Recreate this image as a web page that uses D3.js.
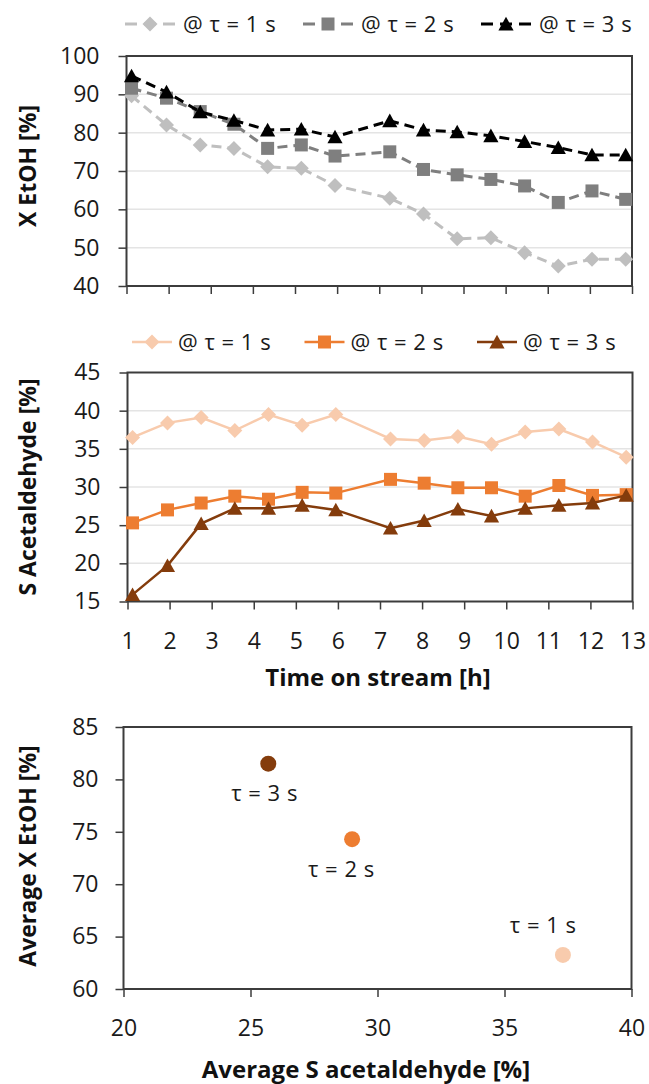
<!DOCTYPE html>
<html>
<head>
<meta charset="utf-8">
<script src="https://cdn.jsdelivr.net/npm/d3@7"></script>
<style>
  html, body { margin: 0; padding: 0; background: #fff; }
  svg { display: block; font-family: "Open Sans", sans-serif; }
</style>
</head>
<body>
<svg id="fig" width="649" height="1084"></svg>
<script>
// ---- data ----------------------------------------------------------------
const hours = [1.12, 1.95, 2.75, 3.55, 4.35, 5.15, 5.95, 7.25, 8.05, 8.85, 9.65, 10.45, 11.25, 12.05, 12.85];

const conversionTau1 = [89.6, 82.0, 76.8, 75.9, 71.1, 70.7, 66.2, 62.9, 58.8, 52.3, 52.6, 48.7, 45.2, 47.0, 47.0];
const conversionTau2 = [91.6, 89.0, 85.5, 82.2, 75.9, 76.8, 73.9, 75.0, 70.4, 69.0, 67.8, 66.1, 61.8, 64.8, 62.6];
const conversionTau3 = [94.8, 90.6, 85.4, 83.2, 80.7, 80.9, 78.9, 83.1, 80.7, 80.2, 79.2, 77.7, 76.1, 74.2, 74.2];

const selectivityTau1 = [36.5, 38.4, 39.1, 37.4, 39.5, 38.1, 39.5, 36.3, 36.1, 36.6, 35.6, 37.2, 37.6, 35.9, 33.9];
const selectivityTau2 = [25.3, 27.0, 27.9, 28.8, 28.4, 29.3, 29.2, 31.0, 30.5, 29.9, 29.9, 28.8, 30.2, 28.9, 29.0];
const selectivityTau3 = [15.9, 19.7, 25.2, 27.2, 27.2, 27.6, 27.0, 24.6, 25.6, 27.1, 26.2, 27.2, 27.6, 27.9, 28.9];

const seriesNames = ["@ τ = 1 s", "@ τ = 2 s", "@ τ = 3 s"];
const pointNames = ["τ = 1 s", "τ = 2 s", "τ = 3 s"];
const avgSelectivity = [37.3, 29.0, 25.7];
const avgConversion = [63.25, 74.3, 81.5];

const hourTicks = [1, 2, 3, 4, 5, 6, 7, 8, 9, 10, 11, 12, 13];
const conversionTicks = [40, 50, 60, 70, 80, 90, 100];
const selectivityTicks = [15, 20, 25, 30, 35, 40, 45];
const avgConversionTicks = [60, 65, 70, 75, 80, 85];
const avgSelectivityTicks = [20, 25, 30, 35, 40];

// ---- styling ---------------------------------------------------------------
const greyColors = ["#bfbfbf", "#7f7f7f", "#000000"];
const orangeColors = ["#f8cbad", "#ed7d31", "#843c0c"];
const shapes = ["diamond", "square", "triangle"];
const FONT = 23;
const LEGEND_FONT = 22;
const TITLE_FONT = 23;
const BORDER = "#3c3c3c";
const GRID = "#e4e4e4";

const svg = d3.select("#fig");

function markerPath(shape) {
  if (shape === "diamond") return "M0,-7.5L7.5,0L0,7.5L-7.5,0Z";
  if (shape === "square") return "M-6.5,-6.5H6.5V6.5H-6.5Z";
  return "M0,-7.2L7.6,6.4L-7.6,6.4Z";
}

function frame(g, x, y, xTicks, yTicks, opts) {
  const [x0, x1] = x.range();
  const [y0, y1] = y.range(); // y0 bottom, y1 top
  // horizontal gridlines
  if (opts.grid) {
    g.append("g").selectAll("line")
      .data(yTicks.slice(1, -1))
      .join("line")
      .attr("x1", x0).attr("x2", x1)
      .attr("y1", d => y(d)).attr("y2", d => y(d))
      .attr("stroke", GRID).attr("stroke-width", 1.5);
  }
  // y axis
  const ya = g.append("g").attr("transform", `translate(${x0},0)`)
    .call(d3.axisLeft(y).tickValues(yTicks).tickSize(8).tickPadding(opts.yPad));
  // x axis
  const xa = g.append("g").attr("transform", `translate(0,${y0})`)
    .call(d3.axisBottom(x).tickValues(xTicks).tickSize(8).tickPadding(23)
      .tickFormat(opts.xLabels ? d3.format("d") : () => ""));
  [ya, xa].forEach(a => {
    a.select(".domain").remove();
    a.selectAll(".tick line").attr("stroke", BORDER).attr("stroke-width", 1.5);
    a.selectAll(".tick text").attr("fill", "#1a1a1a")
      .style("font-size", FONT + "px").style("font-family", "Open Sans, sans-serif");
  });
  // plot border
  g.append("rect")
    .attr("x", x0).attr("y", y1)
    .attr("width", x1 - x0).attr("height", y0 - y1)
    .attr("fill", "none").attr("stroke", BORDER).attr("stroke-width", 2);
}

function yTitle(text, cx, cy) {
  svg.append("text")
    .attr("transform", `translate(${cx},${cy}) rotate(-90)`)
    .attr("text-anchor", "middle").attr("dy", "0.35em")
    .style("font-size", TITLE_FONT + "px").style("font-weight", 700)
    .attr("fill", "#111").text(text);
}

function xTitle(text, cx, cy) {
  svg.append("text")
    .attr("x", cx).attr("y", cy)
    .attr("text-anchor", "middle").attr("dy", "0.35em")
    .style("font-size", (TITLE_FONT + 1) + "px").style("font-weight", 700)
    .attr("fill", "#111").text(text);
}

function series(g, x, y, values, color, shape, dashed) {
  const line = d3.line().x((d, i) => x(hours[i])).y(d => y(d));
  g.append("path").datum(values)
    .attr("d", line)
    .attr("fill", "none").attr("stroke", color)
    .attr("stroke-width", dashed ? 3 : 2.5)
    .attr("stroke-dasharray", dashed ? "10,6" : null);
  g.append("g").selectAll("path")
    .data(values)
    .join("path")
    .attr("transform", (d, i) => `translate(${x(hours[i])},${y(d)})`)
    .attr("d", markerPath(shape))
    .attr("fill", color);
}

function legend(y0, x0, step, lineLen, colors, dashed) {
  const g = svg.append("g");
  seriesNames.forEach((name, i) => {
    const sx = x0 + i * step;
    g.append("line")
      .attr("x1", sx).attr("x2", sx + lineLen)
      .attr("y1", y0).attr("y2", y0)
      .attr("stroke", colors[i]).attr("stroke-width", dashed ? 3 : 2.5)
      .attr("stroke-dasharray", dashed ? "12,7" : null);
    g.append("path")
      .attr("transform", `translate(${sx + lineLen / 2},${y0})`)
      .attr("d", markerPath(shapes[i]))
      .attr("fill", colors[i]);
    g.append("text")
      .attr("x", sx + lineLen + (dashed ? 8 : 6)).attr("y", y0).attr("dy", "0.35em")
      .style("font-size", LEGEND_FONT + "px").style("word-spacing", "1px")
      .attr("fill", "#1a1a1a").text(name);
  });
}

// ---- panel 1: ethanol conversion vs time -----------------------------------
{
  const x = d3.scaleLinear().domain([1, 13]).range([126.5, 632]);
  const y = d3.scaleLinear().domain([40, 100]).range([286, 56]);
  const g = svg.append("g");
  frame(g, x, y, hourTicks, conversionTicks, { grid: true, xLabels: false, yPad: 19 });
  [conversionTau1, conversionTau2, conversionTau3].forEach((vals, i) =>
    series(g, x, y, vals, greyColors[i], shapes[i], true));
  legend(24, 125, 178, 50, greyColors, true);
  yTitle("X EtOH [%]", 28, 166);
}

// ---- panel 2: acetaldehyde selectivity vs time -----------------------------
{
  const x = d3.scaleLinear().domain([1, 13]).range([127.5, 632.5]);
  const y = d3.scaleLinear().domain([15, 45]).range([601.5, 372.5]);
  const g = svg.append("g");
  frame(g, x, y, hourTicks, selectivityTicks, { grid: true, xLabels: true, yPad: 19 });
  [selectivityTau1, selectivityTau2, selectivityTau3].forEach((vals, i) =>
    series(g, x, y, vals, orangeColors[i], shapes[i], false));
  legend(342, 132, 172.5, 40, orangeColors, false);
  yTitle("S Acetaldehyde [%]", 28, 487);
  xTitle("Time on stream [h]", 378, 678);
}

// ---- panel 3: average conversion vs average selectivity --------------------
{
  const x = d3.scaleLinear().domain([20, 40]).range([123.5, 631.5]);
  const y = d3.scaleLinear().domain([60, 85]).range([989, 727]);
  const g = svg.append("g");
  frame(g, x, y, avgSelectivityTicks, avgConversionTicks, { grid: false, xLabels: true, yPad: 17 });
  // label placement around each point: [dx, dy]
  const labelOffset = [[-20, -30], [-11, 30], [-4, 30]];
  g.append("g").selectAll("circle")
    .data(avgSelectivity)
    .join("circle")
    .attr("cx", (d, i) => x(d))
    .attr("cy", (d, i) => y(avgConversion[i]))
    .attr("r", 8)
    .attr("fill", (d, i) => orangeColors[i]);
  g.append("g").selectAll("text")
    .data(avgSelectivity)
    .join("text")
    .attr("x", (d, i) => x(d) + labelOffset[i][0])
    .attr("y", (d, i) => y(avgConversion[i]) + labelOffset[i][1])
    .attr("dy", "0.35em").attr("text-anchor", "middle")
    .style("font-size", LEGEND_FONT + "px").style("word-spacing", "1px")
    .attr("fill", "#1a1a1a")
    .text((d, i) => pointNames[i]);
  yTitle("Average X EtOH [%]", 28, 856);
  xTitle("Average S acetaldehyde [%]", 366, 1070);
}
</script>
</body>
</html>
